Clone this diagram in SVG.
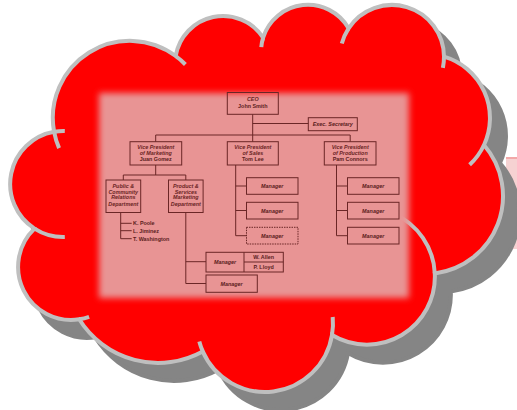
<svg xmlns="http://www.w3.org/2000/svg" width="517" height="410" viewBox="0 0 517 410">
<defs>
  <filter id="soft" x="-8%" y="-10%" width="116%" height="120%">
    <feGaussianBlur stdDeviation="3"/>
  </filter>
  <path id="cloudPath" d="M54.1,131.8 A77,77 0 0 1 175.7,56 A48,48 0 0 1 263.1,37.6 A47,47 0 0 1 348.6,28.3 A52,52 0 0 1 444,56.6 A64,64 0 0 1 484,145 A78,78 0 0 1 434.8,273.4 A68,68 0 0 1 332,335 A68,68 0 0 1 202.7,351.4 A93,93 0 0 1 79.2,319.3 A53,53 0 0 1 34.5,228.6 A53,53 0 0 1 54.1,131.8 Z"/>
</defs>
<style>
  .hook{fill:none;stroke:#bfbfbf;stroke-width:4;stroke-linecap:butt}
  .box{fill:none;stroke:#6b2626;stroke-width:1}
  .ln{fill:none;stroke:#6b2626;stroke-width:1}
  .t{font-family:"Liberation Sans",Arial,sans-serif;font-size:5.4px;fill:#5a1c1c;text-anchor:middle;font-weight:bold}
  .i{font-style:italic;font-weight:bold;fill:#6a2424}
  .ib{font-style:italic}
  .n{text-anchor:start}
</style>

<!-- stray pink strip at right edge -->
<rect x="506" y="157" width="11" height="92" fill="#f6d2d2"/>
<rect x="506" y="157" width="11" height="2" fill="#f2a8a8"/>

<!-- shadow -->
<use href="#cloudPath" transform="translate(16,18)" fill="#858585" stroke="#858585" stroke-width="4"/>

<!-- cloud -->
<g id="cloud">
  <use href="#cloudPath" fill="#ff0000" stroke="#bfbfbf" stroke-width="4"/>
  <path class="hook" d="M54.1,131.8 A77,77 0 0 0 59.1,148.1"/>
  <path class="hook" d="M54.1,131.8 A53,53 0 0 1 64.8,131"/>
  <path class="hook" d="M175.7,56 A77,77 0 0 1 185.4,64.5"/>
  <path class="hook" d="M263.1,37.6 A47,47 0 0 0 261.3,47.1"/>
  <path class="hook" d="M348.6,28.3 A52,52 0 0 0 341.8,43.5"/>
  <path class="hook" d="M444,56.6 A52,52 0 0 1 442.9,67.8"/>
  <path class="hook" d="M484,145 A64,64 0 0 1 469.6,164.8"/>
  <path class="hook" d="M434.8,273.4 A68,68 0 0 0 394,214"/>
  <path class="hook" d="M332,335 A68,68 0 0 0 332.7,317"/>
  <path class="hook" d="M202.7,351.4 A68,68 0 0 1 199.3,341.6"/>
  <path class="hook" d="M79.2,319.3 A53,53 0 0 0 89.1,316.8"/>
  <path class="hook" d="M34.5,228.6 A53,53 0 0 0 64.8,237"/>
</g>

<!-- picture background -->
<rect x="99" y="93" width="310" height="205" fill="#e89494" filter="url(#soft)"/>

<!-- connectors -->
<g id="connectors">
  <path class="ln" d="M252.7,114.3 V141.7 M252.7,123.5 H308.3 M155.7,135 H350.2 M155.7,135 V141.7 M350.2,135 V141.7"/>
  <path class="ln" d="M155.7,165 V175 M123.3,175 H185.8 M123.3,175 V180 M185.8,175 V180"/>
  <path class="ln" d="M120.7,212.5 V238.7 M120.7,223.3 H131.7 M120.7,230.7 H131.7 M120.7,238.7 H131.7"/>
  <path class="ln" d="M185.8,212.5 V283.5 M185.8,261.7 H206 M185.8,283.5 H206"/>
  <path class="ln" d="M235.7,165 V235.7 M235.7,186 H246.5 M235.7,210.5 H246.5 M235.7,235.7 H246.5"/>
  <path class="ln" d="M336.5,165 V235.7 M336.5,186 H347.5 M336.5,210.5 H347.5 M336.5,235.7 H347.5"/>
</g>

<g id="ceo">
  <rect class="box" x="227.3" y="92.5" width="51" height="21.8"/>
  <text class="t i" x="252.8" y="101">CEO</text>
  <text class="t" x="252.8" y="107.7">John Smith</text>
</g>
<g id="exec-secretary">
  <rect class="box" x="308.3" y="117.7" width="49" height="13"/>
  <text class="t ib" x="332.8" y="126.2">Exec. Secretary</text>
</g>
<g id="vp-marketing">
  <rect class="box" x="130" y="141.7" width="51.7" height="23.3"/>
  <text class="t i" x="155.8" y="148.7">Vice President</text>
  <text class="t i" x="155.8" y="154.7">of Marketing</text>
  <text class="t" x="155.8" y="161.2">Juan Gomez</text>
</g>
<g id="vp-sales">
  <rect class="box" x="227.3" y="141.7" width="51" height="23.3"/>
  <text class="t i" x="252.8" y="148.7">Vice President</text>
  <text class="t i" x="252.8" y="154.7">of Sales</text>
  <text class="t" x="252.8" y="161.2">Tom Lee</text>
</g>
<g id="vp-production">
  <rect class="box" x="324.3" y="141.7" width="51.7" height="23.3"/>
  <text class="t i" x="350.2" y="148.7">Vice President</text>
  <text class="t i" x="350.2" y="154.7">of Production</text>
  <text class="t" x="350.2" y="161.2">Pam Connors</text>
</g>
<g id="public-relations">
  <rect class="box" x="106" y="180" width="34.7" height="32.5"/>
  <text class="t i" x="123.3" y="188">Public &amp;</text>
  <text class="t i" x="123.3" y="193.7">Community</text>
  <text class="t i" x="123.3" y="199.3">Relations</text>
  <text class="t i" x="123.3" y="205.5">Department</text>
</g>
<g id="names">
  <text class="t n" x="133" y="225.3">K. Poole</text>
  <text class="t n" x="133" y="232.7">L. Jiminez</text>
  <text class="t n" x="133" y="240.7">T. Washington</text>
</g>
<g id="product-services">
  <rect class="box" x="168.5" y="180" width="34.6" height="32.5"/>
  <text class="t i" x="185.8" y="188">Product &amp;</text>
  <text class="t i" x="185.8" y="193.7">Services</text>
  <text class="t i" x="185.8" y="199.3">Marketing</text>
  <text class="t i" x="185.8" y="205.5">Department</text>
</g>
<g id="sales-manager-1">
  <rect class="box" x="246.5" y="177.7" width="51.5" height="16.6"/>
  <text class="t ib" x="272.2" y="188">Manager</text>
</g>
<g id="sales-manager-2">
  <rect class="box" x="246.5" y="202.3" width="51.5" height="16.7"/>
  <text class="t ib" x="272.2" y="212.6">Manager</text>
</g>
<g id="sales-manager-3">
  <rect class="box" x="246.5" y="227.3" width="51.5" height="16.7" stroke-dasharray="1.5,1"/>
  <text class="t ib" x="272.2" y="237.6">Manager</text>
</g>
<g id="prod-manager-1">
  <rect class="box" x="347.5" y="177.7" width="51.5" height="16.6"/>
  <text class="t ib" x="373.2" y="188">Manager</text>
</g>
<g id="prod-manager-2">
  <rect class="box" x="347.5" y="202.3" width="51.5" height="16.7"/>
  <text class="t ib" x="373.2" y="212.6">Manager</text>
</g>
<g id="prod-manager-3">
  <rect class="box" x="347.5" y="227.3" width="51.5" height="16.7"/>
  <text class="t ib" x="373.2" y="237.6">Manager</text>
</g>
<g id="mkt-manager-1">
  <rect class="box" x="206" y="252.3" width="77.3" height="19.7"/>
  <path class="ln" d="M244,252.3 V272 M244,262 H283.3"/>
  <text class="t ib" x="225" y="263.7">Manager</text>
  <text class="t" x="263.6" y="259">W. Allen</text>
  <text class="t" x="263.6" y="269">P. Lloyd</text>
</g>
<g id="mkt-manager-2">
  <rect class="box" x="206" y="275" width="51.3" height="17.3"/>
  <text class="t ib" x="231.6" y="285.6">Manager</text>
</g>
</svg>
